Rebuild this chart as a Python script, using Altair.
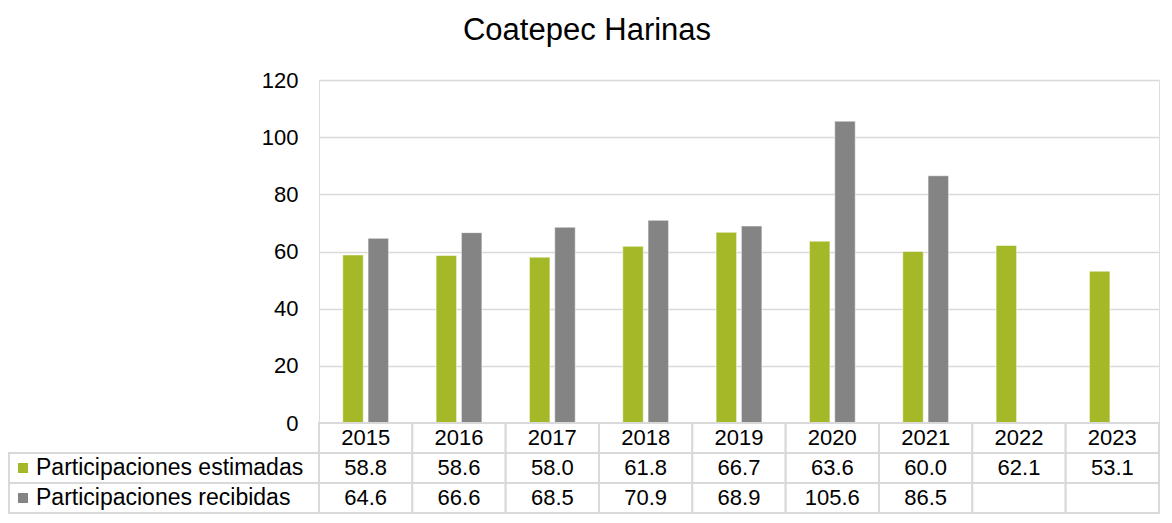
import altair as alt
import pandas as pd

years = ["2015", "2016", "2017", "2018", "2019", "2020", "2021", "2022", "2023"]
estimadas = [58.8, 58.6, 58.0, 61.8, 66.7, 63.6, 60.0, 62.1, 53.1]
recibidas = [64.6, 66.6, 68.5, 70.9, 68.9, 105.6, 86.5, None, None]
series = ["Participaciones estimadas", "Participaciones recibidas"]
colors = ["#a5b828", "#848484"]
y_ticks = [0, 20, 40, 60, 80, 100, 120]
title_text = "Coatepec Harinas"
row_keys = ["header", "est", "rec"]

FONT = "Liberation Sans"
PLOT_W = 840
BAR_H = 343
ROW_H = 30
LABEL_W = 310
GRID = "#d9d9d9"
TOTAL_H = BAR_H + 3 * ROW_H

# bar data
bar_rows = []
for i, yr in enumerate(years):
    bar_rows.append({"year": yr, "series": series[0], "value": estimadas[i]})
    if recibidas[i] is not None:
        bar_rows.append({"year": yr, "series": series[1], "value": recibidas[i]})
bars_df = pd.DataFrame(bar_rows)

color_scale = alt.Scale(domain=series, range=colors)
x_enc = alt.X("year:O", sort=years, axis=None,
              scale=alt.Scale(domain=years, paddingInner=0, paddingOuter=0))

bars = alt.Chart(bars_df).mark_bar(stroke="#ffffff", strokeWidth=1, strokeOpacity=0.5).encode(
    x=x_enc,
    xOffset=alt.XOffset("series:N", sort=series,
                        scale=alt.Scale(domain=series, paddingInner=0.19, paddingOuter=0.94)),
    y=alt.Y("value:Q", scale=alt.Scale(domain=[0, 120], nice=False, range=[BAR_H, 0]),
            axis=alt.Axis(values=y_ticks, title=None, domain=False, ticks=False,
                          labelFontSize=22, labelFont=FONT, labelColor="#000000",
                          labelPadding=21, gridColor=GRID, gridWidth=1.5)),
    color=alt.Color("series:N", scale=color_scale, legend=None),
)

# table data
cells = []
for i, yr in enumerate(years):
    cells.append({"year": yr, "row": "header", "txt": yr})
    cells.append({"year": yr, "row": "est", "txt": f"{estimadas[i]:.1f}"})
    cells.append({"year": yr, "row": "rec",
                  "txt": "" if recibidas[i] is None else f"{recibidas[i]:.1f}"})
cells_df = pd.DataFrame(cells)


def row_y():
    return alt.Y("row:N", sort=row_keys, axis=None,
                 scale=alt.Scale(domain=row_keys, paddingInner=0, paddingOuter=0,
                                 range=[BAR_H, TOTAL_H]))


tbase = alt.Chart(cells_df).encode(x=x_enc, y=row_y())
tgrid = tbase.mark_rect(fill="white", stroke=GRID, strokeWidth=2)
ttext = tbase.mark_text(font=FONT, fontSize=22, color="#000000").encode(text="txt:N")
table = alt.layer(tgrid, ttext)

label_df = pd.DataFrame({"row": ["est", "rec"], "series": series})
lbase = alt.Chart(label_df).encode(y=row_y())
lrect = lbase.mark_rect(fill="white", stroke=GRID, strokeWidth=2).encode(
    x=alt.value(-LABEL_W), x2=alt.value(0)
)
lsq = lbase.mark_point(shape="square", filled=True, size=100, opacity=1).encode(
    x=alt.value(-296),
    color=alt.Color("series:N", scale=color_scale, legend=None),
)
ltxt = lbase.mark_text(align="left", font=FONT, fontSize=23, color="#000000").encode(
    x=alt.value(-283), text="series:N"
)
labels = alt.layer(lrect, lsq, ltxt)

chart = alt.layer(bars, table, labels).resolve_scale(y="independent").properties(
    width=PLOT_W, height=TOTAL_H,
    padding={"left": 0, "top": 7, "right": 0, "bottom": 0},
    title=alt.TitleParams(title_text, fontSize=31, font=FONT, fontWeight="normal",
                          color="#000000", anchor="middle", frame="bounds",
                          offset=22, dx=3),
).configure_view(stroke=None).configure(font=FONT)

chart.save("out.html", embed_options={"renderer": "svg", "actions": False})
